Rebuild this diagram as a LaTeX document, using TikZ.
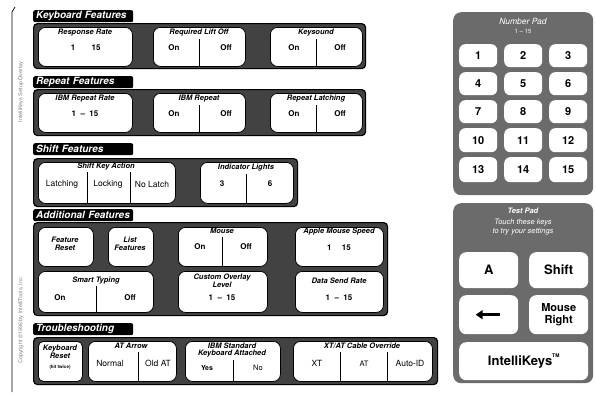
\documentclass[tikz,border=0pt]{standalone}
\usepackage{fontspec}
\setmainfont{TeX Gyre Heros}
\setsansfont{TeX Gyre Heros}
\usetikzlibrary{arrows.meta}
\definecolor{padgray}{HTML}{6B6B6B}
\definecolor{hatch}{HTML}{424242}
\tikzset{
  tabbox/.style={fill=black, text=white, anchor=north west, minimum height=12pt, text width=94pt, inner xsep=3pt, inner ysep=0pt, rounded corners=2pt, align=left, font=\bfseries\itshape\fontsize{10}{10}\selectfont},
  panelbox/.style={fill=hatch, draw=black, line width=1.2pt, rounded corners=4pt, anchor=north west, inner sep=0pt},
  ibox/.style={fill=white, draw=black, line width=0.8pt, rounded corners=7pt, anchor=north west, inner sep=0pt},
  ttl/.style={font=\bfseries\itshape\fontsize{7.5}{7.8}\selectfont, inner sep=0pt, align=center},
  val/.style={font=\bfseries\fontsize{8}{9}\selectfont, inner sep=0pt},
  div/.style={draw=black, line width=0.8pt},
  padbox/.style={fill=padgray, rounded corners=8pt, anchor=north west, inner sep=0pt},
  nkey/.style={fill=white, rounded corners=6pt, anchor=north west, inner sep=0pt, font=\bfseries\fontsize{11}{11}\selectfont},
  tkey/.style={fill=white, rounded corners=7pt, anchor=north west, inner sep=0pt, font=\bfseries\fontsize{13}{13.5}\selectfont, align=center},
  padttl/.style={text=white, font=\itshape\fontsize{8.5}{9}\selectfont, inner sep=0pt, align=center},
  sidetxt/.style={rotate=90, text=gray, font=\fontsize{5.5}{6}\selectfont, inner sep=0pt}
}
\begin{document}
\begin{tikzpicture}[x=1pt,y=-1pt]
\useasboundingbox (0,0) rectangle (596,394);
% left strip
\coordinate (ltop) at (12,12);
\coordinate (lbot) at (12,392);
\coordinate (ltick) at (15,7);
\draw[line width=0.7pt] (ltick) -- (ltop) -- (lbot);
\node[sidetxt] (st1) at (21,92) {IntelliKeys Setup Overlay};
\node[sidetxt] (st2) at (21,320) {Copyright \textcopyright 1996 by IntelliTools, Inc.};

% ===== Keyboard Features
\node[tabbox] (t1) at (33,10) {Keyboard Features};
\node[panelbox, minimum width=332pt, minimum height=45pt] (p1) at (33,23) {};
\node[ibox, minimum width=94pt, minimum height=39pt] (rr) at (38,27) {};
\node[ttl] (rrt) at (85,33) {Response Rate};
\node[val] (rr1) at (73,48) {1};
\node[val] (rr2) at (96,48) {15};
\node[ibox, minimum width=92pt, minimum height=39pt] (lo) at (153,27) {};
\node[ttl] (lot) at (199,33) {Required Lift Off};
\draw[div] (199,39) -- (199,66);
\node[val] (lo1) at (174,48) {On};
\node[val] (lo2) at (226,48) {Off};
\node[ibox, minimum width=92pt, minimum height=39pt] (ks) at (270,27) {};
\node[ttl] (kst) at (316,33) {Keysound};
\draw[div] (316,39) -- (316,66);
\node[val] (ks1) at (294,48) {On};
\node[val] (ks2) at (340,48) {Off};

% ===== Repeat Features
\node[tabbox] (t2) at (33,76) {Repeat Features};
\node[panelbox, minimum width=332pt, minimum height=46pt] (p2) at (33,89) {};
\node[ibox, minimum width=94pt, minimum height=39pt] (irr) at (38,93) {};
\node[ttl] (irrt) at (85,99) {IBM Repeat Rate};
\node[val] (irr1) at (85,114) {1 \ -- \ 15};
\node[ibox, minimum width=92pt, minimum height=39pt] (ir) at (153,93) {};
\node[ttl] (irt) at (199,99) {IBM Repeat};
\draw[div] (199,105) -- (199,132);
\node[val] (ir1) at (174,114) {On};
\node[val] (ir2) at (226,114) {Off};
\node[ibox, minimum width=92pt, minimum height=39pt] (rl) at (270,93) {};
\node[ttl] (rlt) at (316,99) {Repeat Latching};
\draw[div] (316,105) -- (316,132);
\node[val] (rl1) at (294,114) {On};
\node[val] (rl2) at (340,114) {Off};

% ===== Shift Features
\node[tabbox] (t3) at (33,143) {Shift Features};
\node[panelbox, minimum width=264pt, minimum height=48pt] (p3) at (33,158) {};
\node[ibox, minimum width=137pt, minimum height=41pt] (ska) at (38,162) {};
\node[ttl] (skat) at (106,167) {Shift Key Action};
\draw[div] (87,172) -- (87,203);
\draw[div] (130,172) -- (130,203);
\node[val, font=\fontsize{8.5}{9}\selectfont] (ska1) at (62,184) {Latching};
\node[val, font=\fontsize{8.5}{9}\selectfont] (ska2) at (108,184) {Locking};
\node[val, font=\fontsize{8.5}{9}\selectfont] (ska3) at (152,184) {No Latch};
\node[ibox, minimum width=93pt, minimum height=41pt] (il) at (200,162) {};
\node[ttl] (ilt) at (246,168) {Indicator Lights};
\draw[div] (246,174) -- (246,203);
\node[val] (il1) at (222,184) {3};
\node[val] (il2) at (270,184) {6};

% ===== Additional Features
\node[tabbox] (t4) at (33,209) {Additional Features};
\node[panelbox, minimum width=354pt, minimum height=93pt] (p4) at (33,222) {};
\node[ibox, minimum width=55pt, minimum height=39pt] (fr) at (38,227) {};
\node[ttl] (frt) at (65,244) {Feature\\Reset};
\node[ibox, minimum width=45pt, minimum height=39pt] (lf) at (108,227) {};
\node[ttl] (lft) at (130,244) {List\\Features};
\node[ibox, minimum width=89pt, minimum height=39pt] (ms) at (178,227) {};
\node[ttl] (mst) at (222,231) {Mouse};
\draw[div] (222,237) -- (222,266);
\node[val] (ms1) at (200,247) {On};
\node[val] (ms2) at (246,247) {Off};
\node[ibox, minimum width=88pt, minimum height=39pt] (am) at (295,227) {};
\node[ttl] (amt) at (339,232) {Apple Mouse Speed};
\node[val] (am1) at (339,248) {1 \quad 15};
\node[ibox, minimum width=115pt, minimum height=41pt] (sm) at (38,271) {};
\node[ttl] (smt) at (96,281) {Smart Typing};
\draw[div] (96,286) -- (96,312);
\node[val] (sm1) at (60,298) {On};
\node[val] (sm2) at (130,298) {Off};
\node[ibox, minimum width=89pt, minimum height=41pt] (co) at (178,271) {};
\node[ttl] (cot) at (222,281) {Custom Overlay\\Level};
\node[val] (co1) at (222,298) {1 \ -- \ 15};
\node[ibox, minimum width=88pt, minimum height=41pt] (ds) at (295,271) {};
\node[ttl] (dst) at (339,281) {Data Send Rate};
\node[val] (ds1) at (339,298) {1 \ -- \ 15};

% ===== Troubleshooting
\node[tabbox] (t5) at (33,323) {Troubleshooting};
\node[panelbox, minimum width=404pt, minimum height=47pt] (p5) at (33,337) {};
\node[ibox, minimum width=44pt, minimum height=40pt, rounded corners=5pt] (kr) at (38,341) {};
\node[ttl] (krt) at (60,352) {Keyboard\\Reset};
\node[val, font=\bfseries\fontsize{4.5}{5}\selectfont] (krs) at (60,367) {(hit twice)};
\node[ibox, minimum width=88pt, minimum height=40pt] (at) at (88,341) {};
\node[ttl] (att) at (131,346) {AT Arrow};
\draw[div] (138,352) -- (138,381);
\node[val, font=\fontsize{8.5}{9}\selectfont] (at1) at (110,363) {Normal};
\node[val, font=\fontsize{8.5}{9}\selectfont] (at2) at (158,363) {Old AT};
\node[ibox, minimum width=95pt, minimum height=40pt] (ib) at (185,341) {};
\node[ttl] (ibt) at (232,350) {IBM Standard\\Keyboard Attached};
\draw[div] (233,360) -- (233,381);
\node[val, font=\bfseries\fontsize{7}{8}\selectfont] (ib1) at (207,368) {Yes};
\node[val, font=\fontsize{7.5}{8}\selectfont] (ib2) at (258,368) {No};
\node[ibox, minimum width=139pt, minimum height=40pt] (xt) at (293,341) {};
\node[ttl] (xtt) at (362,346) {XT/AT Cable Override};
\draw[div] (340,352) -- (340,381);
\draw[div] (387,352) -- (387,381);
\node[val, font=\fontsize{8.5}{9}\selectfont] (xt1) at (317,363) {XT};
\node[val, font=\fontsize{7.5}{9}\selectfont] (xt2) at (364,364) {AT};
\node[val, font=\fontsize{8.5}{9}\selectfont] (xt3) at (410,363) {Auto-ID};

% ===== Number Pad
\node[padbox, minimum width=140pt, minimum height=183pt] (np) at (453,12) {};
\node[padttl] (npt) at (523,21) {Number Pad};
\node[padttl, font=\fontsize{6}{7}\selectfont] (npr) at (523,31) {1 -- 15};
\node[nkey, minimum width=38pt, minimum height=23pt] (k1) at (459,44) {1};
\node[nkey, minimum width=38pt, minimum height=23pt] (k2) at (504,44) {2};
\node[nkey, minimum width=38pt, minimum height=23pt] (k3) at (549,44) {3};
\node[nkey, minimum width=38pt, minimum height=23pt] (k4) at (459,72) {4};
\node[nkey, minimum width=38pt, minimum height=23pt] (k5) at (504,72) {5};
\node[nkey, minimum width=38pt, minimum height=23pt] (k6) at (549,72) {6};
\node[nkey, minimum width=38pt, minimum height=23pt] (k7) at (459,100) {7};
\node[nkey, minimum width=38pt, minimum height=23pt] (k8) at (504,100) {8};
\node[nkey, minimum width=38pt, minimum height=23pt] (k9) at (549,100) {9};
\node[nkey, minimum width=38pt, minimum height=24pt] (k10) at (459,128) {10};
\node[nkey, minimum width=38pt, minimum height=24pt] (k11) at (504,128) {11};
\node[nkey, minimum width=38pt, minimum height=24pt] (k12) at (549,128) {12};
\node[nkey, minimum width=38pt, minimum height=25pt] (k13) at (459,157) {13};
\node[nkey, minimum width=38pt, minimum height=25pt] (k14) at (504,157) {14};
\node[nkey, minimum width=38pt, minimum height=25pt] (k15) at (549,157) {15};

% ===== Test Pad
\node[padbox, minimum width=140pt, minimum height=180pt] (tp) at (453,203) {};
\node[padttl, font=\bfseries\itshape\fontsize{7.5}{8}\selectfont] (tpt) at (523,211) {Test Pad};
\node[padttl, font=\itshape\fontsize{7.5}{9}\selectfont] (tps) at (523,227) {Touch these keys\\to try your settings};
\node[tkey, minimum width=59pt, minimum height=36pt] (ka) at (459,252) {A};
\node[tkey, minimum width=59pt, minimum height=36pt] (ksh) at (529,252) {Shift};
\node[tkey, minimum width=59pt, minimum height=39pt] (kl) at (459,295) {};
\draw[line width=3pt, -{Triangle[length=7pt,width=9pt]}] ([xshift=11pt]kl.center) -- ([xshift=-13pt]kl.center);
\node[tkey, minimum width=59pt, minimum height=39pt, font=\bfseries\fontsize{11}{12}\selectfont] (kmr) at (529,295) {Mouse\\Right};
\node[tkey, minimum width=129pt, minimum height=38pt] (kik) at (459,342) {IntelliKeys\raisebox{1.1ex}{\fontsize{5}{5}\selectfont TM}};
\end{tikzpicture}
\end{document}
